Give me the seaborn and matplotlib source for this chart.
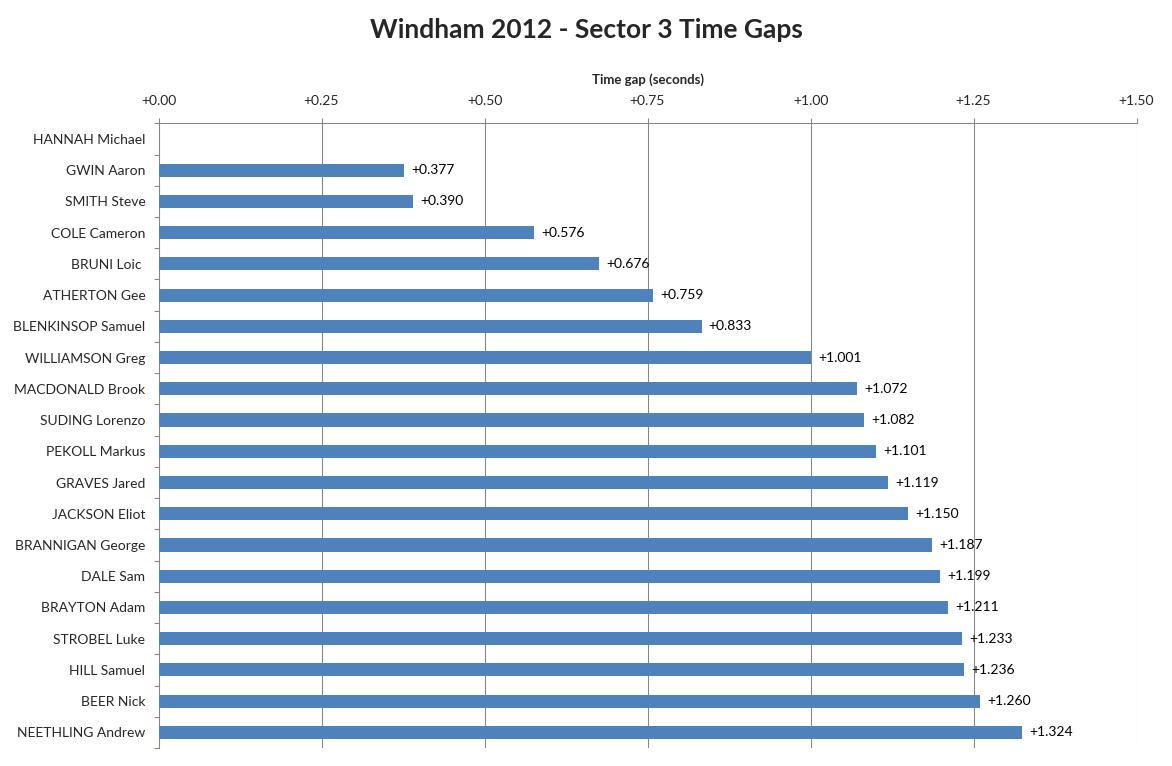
import numpy as np
import pandas as pd
import matplotlib
matplotlib.use("Agg")
import matplotlib.pyplot as plt
import seaborn as sns

# Riders and their sector 3 gap to the fastest time
RIDERS = [
    "HANNAH Michael", "GWIN Aaron", "SMITH Steve", "COLE Cameron", "BRUNI Loic ",
    "ATHERTON Gee", "BLENKINSOP Samuel", "WILLIAMSON Greg", "MACDONALD Brook",
    "SUDING Lorenzo", "PEKOLL Markus", "GRAVES Jared", "JACKSON Eliot",
    "BRANNIGAN George", "DALE Sam", "BRAYTON Adam", "STROBEL Luke",
    "HILL Samuel", "BEER Nick", "NEETHLING Andrew",
]
GAPS = [
    0.000, 0.377, 0.390, 0.576, 0.676, 0.759, 0.833, 1.001, 1.072, 1.082,
    1.101, 1.119, 1.150, 1.187, 1.199, 1.211, 1.233, 1.236, 1.260, 1.324,
]
X_TICKS = [0.0, 0.25, 0.5, 0.75, 1.0, 1.25, 1.5]

BAR_COLOR = "#4F81BD"
GRID_COLOR = "#868686"


def main():
    sns.set_theme(style="white")
    plt.rcParams["font.family"] = ["Lato", "DejaVu Sans"]

    df = pd.DataFrame({"rider": RIDERS, "gap": GAPS})

    fig = plt.figure(figsize=(11.72, 7.66), dpi=100)
    ax = fig.add_axes([158.5 / 1172, 1 - 748 / 766, (1136.5 - 158.5) / 1172, (748 - 123.3) / 766])

    sns.barplot(data=df, x="gap", y="rider", orient="h", color=BAR_COLOR,
                width=0.42, saturation=1, linewidth=0, ax=ax, zorder=3)

    ax.set_xlim(0, 1.5)
    ax.set_ylim(len(RIDERS) - 0.5, -0.5)

    # value labels
    for i, g in enumerate(GAPS):
        if g > 0:
            ax.text(g + 0.011, i, f"+{g:.3f}", va="center", ha="left",
                    fontsize=10, color="black")

    # x axis on top
    ax.xaxis.tick_top()
    ax.xaxis.set_label_position("top")
    ax.set_xticks(X_TICKS)
    ax.set_xticklabels([f"+{t:.2f}" for t in X_TICKS], fontsize=10)
    ax.set_xlabel("Time gap (seconds)", fontsize=9.5, fontweight="bold", labelpad=8.5)
    ax.set_ylabel("")
    ax.tick_params(axis="x", direction="out", length=3.75, width=0.75, color=GRID_COLOR,
                   pad=7.8, top=True, bottom=False)
    ax.grid(axis="x", color=GRID_COLOR, linewidth=0.75, zorder=0)

    # category ticks between bars
    ax.set_yticks(np.arange(len(RIDERS)))
    ax.set_yticklabels(RIDERS, fontsize=10)
    ax.set_yticks(np.arange(-0.5, len(RIDERS), 1), minor=True)
    ax.tick_params(axis="y", which="major", length=0, pad=9.5)
    ax.tick_params(axis="y", which="minor", direction="out", length=3.75, width=0.75,
                   color=GRID_COLOR, left=True)

    for side in ["right", "bottom"]:
        ax.spines[side].set_visible(False)
    for side in ["top", "left"]:
        ax.spines[side].set_color(GRID_COLOR)
        ax.spines[side].set_linewidth(0.75)

    fig.text(0.5, 1 - 30 / 766, "Windham 2012 - Sector 3 Time Gaps",
             ha="center", va="center", fontsize=19, fontweight="bold")

    fig.savefig("out.png", dpi=100)
    plt.close(fig)


if __name__ == "__main__":
    main()
